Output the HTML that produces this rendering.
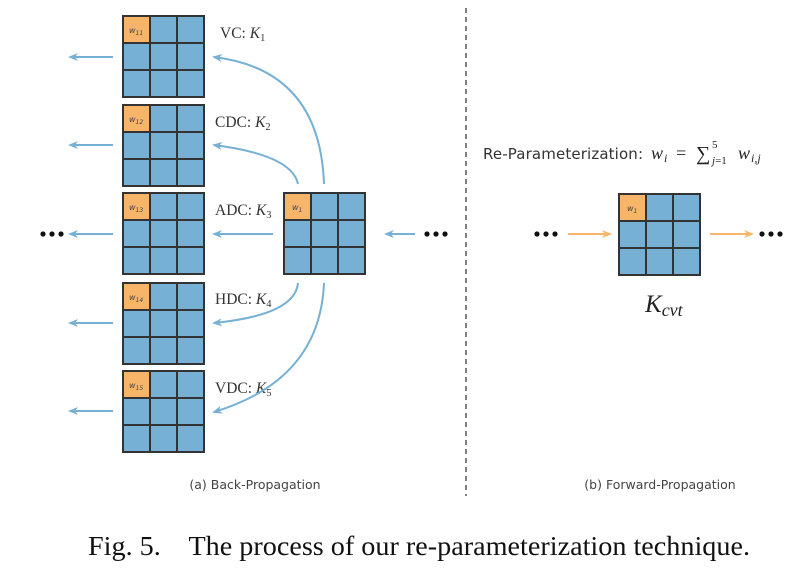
<!DOCTYPE html>
<html><head><meta charset="utf-8"><style>
html,body{margin:0;padding:0;background:#fff;}
svg{display:block;}
.s{font-family:"DejaVu Sans","Liberation Sans",sans-serif;}
.r{font-family:"Liberation Serif",serif;}
</style></head><body>
<svg width="806" height="573" viewBox="0 0 806 573" xmlns="http://www.w3.org/2000/svg">
<defs>
<g id="g">
<rect x="0" y="0" width="81" height="81" fill="#76b0d4"/>
<rect x="0" y="0" width="27" height="27" fill="#f7b56a"/>
<g stroke="#333" stroke-width="2" fill="none">
<rect x="0" y="0" width="81" height="81"/>
<line x1="27" y1="0" x2="27" y2="81"/><line x1="54" y1="0" x2="54" y2="81"/>
<line x1="0" y1="27" x2="81" y2="27"/><line x1="0" y1="54" x2="81" y2="54"/>
</g>
</g>
<marker id="ab" markerWidth="10" markerHeight="8" refX="8" refY="4" orient="auto" markerUnits="userSpaceOnUse"><path d="M10,4 L0,0 L3,4 L0,8z" fill="#76b0d4"/></marker>
<marker id="ao" markerWidth="10" markerHeight="8" refX="8" refY="4" orient="auto" markerUnits="userSpaceOnUse"><path d="M10,4 L0,0 L3,4 L0,8z" fill="#f7b56a"/></marker>
</defs>
<use href="#g" x="123" y="16"/>
<use href="#g" x="123" y="105"/>
<use href="#g" x="123" y="193"/>
<use href="#g" x="123" y="283"/>
<use href="#g" x="123" y="371"/>
<use href="#g" x="284" y="193"/>
<use href="#g" x="619" y="194"/>
<g class="s" font-size="8" fill="#444" font-style="italic">
<text x="129" y="33">w<tspan font-size="6" dy="2">11</tspan></text>
<text x="129" y="122">w<tspan font-size="6" dy="2">12</tspan></text>
<text x="129" y="210">w<tspan font-size="6" dy="2">13</tspan></text>
<text x="129" y="300">w<tspan font-size="6" dy="2">14</tspan></text>
<text x="129" y="388">w<tspan font-size="6" dy="2">15</tspan></text>
<text x="292" y="210">w<tspan font-size="6" dy="2">1</tspan></text>
<text x="627" y="211">w<tspan font-size="6" dy="2">1</tspan></text>
</g>
<g class="r" font-size="15.5" fill="#333">
<text x="220" y="38">VC: <tspan font-style="italic">K</tspan><tspan font-size="10.5" dy="3">1</tspan></text>
<text x="215" y="127">CDC: <tspan font-style="italic">K</tspan><tspan font-size="10.5" dy="3">2</tspan></text>
<text x="215" y="215">ADC: <tspan font-style="italic">K</tspan><tspan font-size="10.5" dy="3">3</tspan></text>
<text x="215" y="304">HDC: <tspan font-style="italic">K</tspan><tspan font-size="10.5" dy="3">4</tspan></text>
<text x="215" y="393">VDC: <tspan font-style="italic">K</tspan><tspan font-size="10.5" dy="3">5</tspan></text>
</g>
<g stroke="#76b0d4" stroke-width="2" fill="none" marker-end="url(#ab)">
<path d="M113,57 L70,57"/>
<path d="M113,145 L70,145"/>
<path d="M113,234 L70,234"/>
<path d="M113,323 L70,323"/>
<path d="M113,411 L70,411"/>
<path d="M273,234 L214,234"/>
<path d="M415,234 L386,234"/>
<path d="M324,184 Q320,70 214,57"/>
<path d="M298,184 Q292,155 214,145"/>
<path d="M298,283 Q295,315 214,323"/>
<path d="M324,283 Q320,380 214,412"/>
</g>
<g stroke="#f7b56a" stroke-width="2" fill="none" marker-end="url(#ao)">
<path d="M568,234 L610,234"/>
<path d="M710,234 L752,234"/>
</g>
<g fill="#111">
<circle cx="43" cy="234" r="2.6"/><circle cx="52" cy="234" r="2.6"/><circle cx="61" cy="234" r="2.6"/>
<circle cx="427" cy="234" r="2.6"/><circle cx="436" cy="234" r="2.6"/><circle cx="445" cy="234" r="2.6"/>
<circle cx="537" cy="234" r="2.6"/><circle cx="546" cy="234" r="2.6"/><circle cx="555" cy="234" r="2.6"/>
<circle cx="762" cy="234" r="2.6"/><circle cx="771" cy="234" r="2.6"/><circle cx="780" cy="234" r="2.6"/>
</g>
<line x1="466" y1="8" x2="466" y2="496" stroke="#555" stroke-width="1.5" stroke-dasharray="5,4"/>
<text class="s" x="483" y="159" font-size="15" fill="#333" textLength="160">Re-Parameterization:</text>
<g class="r" fill="#222">
<text x="651" y="159" font-size="18" font-style="italic">w</text>
<text x="664" y="162" font-size="12" font-style="italic">i</text>
<text x="676" y="159" font-size="18">=</text>
<text x="696" y="160" font-size="20">∑</text>
<text x="712" y="148" font-size="11">5</text>
<text x="712" y="164" font-size="11"><tspan font-style="italic">j</tspan>=1</text>
<text x="738" y="159" font-size="18" font-style="italic">w</text>
<text x="751" y="162" font-size="12" font-style="italic">i,j</text>
</g>
<text class="r" x="645" y="312" font-size="25" font-style="italic" fill="#222">K<tspan font-size="18" dy="4">cvt</tspan></text>
<text class="s" x="255" y="489" font-size="12.5" fill="#444" text-anchor="middle">(a) Back-Propagation</text>
<text class="s" x="660" y="489" font-size="12.5" fill="#444" text-anchor="middle">(b) Forward-Propagation</text>
<text class="r" x="88" y="555" font-size="27" fill="#111" xml:space="preserve" style="white-space:pre" textLength="662" lengthAdjust="spacingAndGlyphs">Fig. 5.    The process of our re-parameterization technique.</text>
</svg>
</body></html>
